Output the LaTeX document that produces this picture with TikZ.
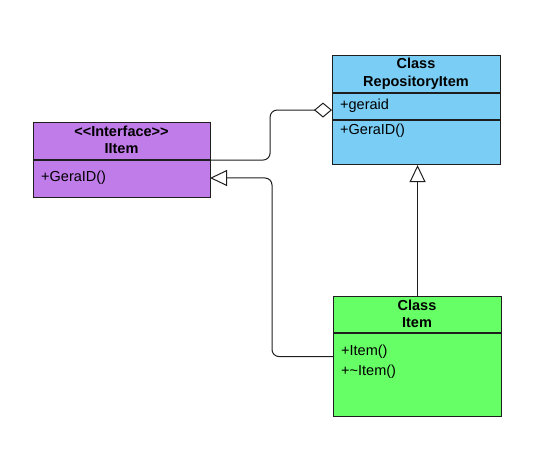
\documentclass[tikz,border=0pt]{standalone}
\usepackage{fontspec}
\setmainfont{Liberation Sans}
\usetikzlibrary{arrows.meta}
\definecolor{purpc}{RGB}{192,124,232}
\definecolor{bluec}{RGB}{122,206,245}
\definecolor{greenc}{RGB}{102,255,102}
\definecolor{edgec}{RGB}{30,30,30}
\begin{document}
\begin{tikzpicture}[x=1pt,y=-1pt,
  box/.style={draw=edgec,line width=1.1pt,rectangle,anchor=north west,inner sep=0pt},
  sep/.style={draw=edgec,line width=1.1pt},
  head/.style={font=\fontsize{14.5}{17.5}\selectfont\bfseries,align=center,inner sep=0pt},
  memb/.style={font=\fontsize{14.5}{17}\selectfont,anchor=west,inner sep=0pt},
  conn/.style={draw=edgec,line width=1pt,rounded corners=7pt},
  agg/.style={conn,-{Diamond[open,length=18pt,width=15pt]}},
  gen/.style={conn,-{Triangle[open,length=17pt,width=16pt]}}]
\useasboundingbox (0,0) rectangle (550,449);
% IItem
\node[box,fill=purpc,minimum width=177pt,minimum height=75pt] (iitem) at (33,122) {};
\draw[sep] (33,160) -- (210,160);
\node[head] (iitemh) at (121.5,140) {<\kern0pt<Interface>\kern0pt>\\IItem};
\node[memb] (iitemm) at (41,178) {+GeraID()};
% RepositoryItem
\node[box,fill=bluec,minimum width=168pt,minimum height=109pt] (repo) at (332,55) {};
\draw[sep] (332,93) -- (500,93);
\draw[sep] (332,120) -- (500,120);
\node[head] (repoh) at (416,74) {Class\\RepositoryItem};
\node[memb] (repom1) at (340,106) {+geraid};
\node[memb] (repom2) at (340,131) {+GeraID()};
% Item
\node[box,fill=greenc,minimum width=168pt,minimum height=120pt] (item) at (333,296) {};
\draw[sep] (333,333) -- (501,333);
\node[head] (itemh) at (417,314) {Class\\Item};
\node[memb] (itemm1) at (341,352) {+Item()};
\node[memb] (itemm2) at (341,372) {+\textasciitilde Item()};
% connectors
\coordinate (gtip) at (210,178);
\draw[agg] (iitem.east) -- ++(59,0) |- (repo.west);
\draw[gen] (item.west) -- ++(-61,0) |- (gtip);
\draw[gen] (item.north) -- (item.north |- repo.south);
\end{tikzpicture}
\end{document}
